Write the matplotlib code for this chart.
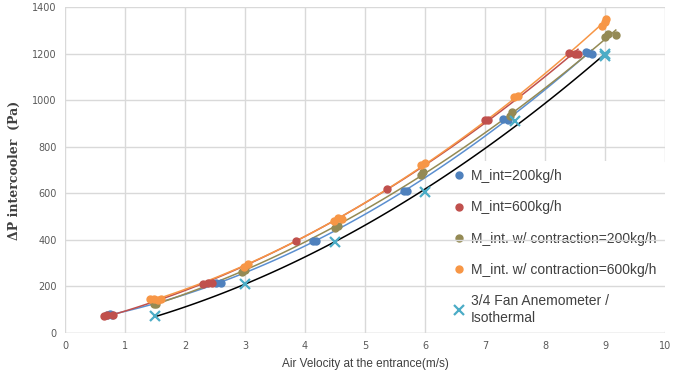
import numpy as np
import matplotlib
matplotlib.use("Agg")
from matplotlib import pyplot as plt

# measured pressure drop across the intercooler vs. entrance air velocity
blueX = [0.70, 0.75, 0.78, 2.52, 2.60, 4.13, 4.18, 5.65, 5.70, 7.30, 7.38, 8.68, 8.72, 8.78]
blueY = [77, 80, 78, 215, 213, 393, 395, 609, 612, 918, 914, 1205, 1203, 1198]

redX = [0.65, 0.70, 0.80, 2.30, 2.38, 2.45, 3.85, 5.37, 7.00, 7.05, 8.40, 8.50, 8.55]
redY = [75, 78, 76, 212, 215, 213, 397, 620, 913, 915, 1203, 1200, 1200]

oliveX = [1.48, 1.52, 2.95, 3.00, 4.50, 4.55, 5.93, 5.97, 7.42, 7.45, 9.00, 9.05, 9.18]
oliveY = [123, 126, 263, 270, 453, 458, 678, 690, 930, 950, 1270, 1285, 1280]

orangeX = [1.42, 1.48, 1.55, 1.60, 2.98, 3.05, 4.48, 4.55, 4.62, 5.93, 6.00, 7.48, 7.55, 8.95, 9.00, 9.02]
orangeY = [145, 148, 142, 146, 285, 298, 480, 492, 490, 720, 728, 1012, 1020, 1320, 1335, 1350]

anemoX = [1.5, 3.0, 4.5, 6.0, 7.5, 9.0, 9.0]
anemoY = [72, 210, 390, 605, 910, 1200, 1188]

labels = ["M_int=200kg/h", "M_int=600kg/h",
          "M_int. w/ contraction=200kg/h", "M_int. w/ contraction=600kg/h",
          "3/4 Fan Anemometer /\nIsothermal"]

xTicks = np.arange(0, 11, 1)
yTicks = np.arange(0, 1401, 200)

fig = plt.figure(figsize=(6.87, 3.70), dpi=100)
ax = fig.add_axes([0.0946, 0.10, 0.8734, 0.881])

series = [
    (blueX, blueY, "#4F81BD", "#5B8FD0", "o"),
    (redX, redY, "#C0504D", "#C0504D", "o"),
    (oliveX, oliveY, "#948A54", "#948A54", "o"),
    (orangeX, orangeY, "#F79646", "#F79646", "o"),
    (anemoX, anemoY, "#4BACC6", "black", "x"),
]

for (xs, ys, col, lineCol, mk), lab in zip(series, labels):
    xs = np.array(xs)
    ys = np.array(ys)
    # excel style 2nd order polynomial trendline over the data range
    coef = np.polyfit(xs, ys, 2)
    xt = np.linspace(xs.min(), xs.max(), 100)
    ax.plot(xt, np.polyval(coef, xt), color=lineCol, lw=1.1, zorder=2)
    if mk == "o":
        ax.plot(xs, ys, "o", color=col, ms=5, mec=col, label=lab, zorder=3)
    else:
        ax.plot(xs, ys, "x", color=col, ms=7, mew=1.6, label=lab, zorder=3)

ax.set_xlim(0, 10)
ax.set_ylim(0, 1400)
ax.set_xticks(xTicks)
ax.set_yticks(yTicks)

# horizontal grid on the axis, vertical grid drawn under the legend
ax.set_axisbelow(True)
ax.yaxis.grid(True, color="#D9D9D9", lw=1)
for xv in xTicks:
    ax.axvline(xv, color="#D9D9D9", lw=1, zorder=0.3)
for s in ax.spines.values():
    s.set_visible(False)
ax.tick_params(length=0, labelsize=7, colors="#595959", pad=6)
ax.axhline(0, color="#D9D9D9", lw=1, zorder=0.6)

ax.set_xlabel("Air Velocity at the entrance(m/s)", fontsize=8.5,
              family="Liberation Sans", color="#404040", labelpad=5)
ax.set_ylabel("ΔP intercooler  (Pa)", fontsize=9, family="DejaVu Serif",
              fontweight="bold", color="#404040", labelpad=8)

leg = ax.legend(loc="lower right", bbox_to_anchor=(1.0, 0.0), frameon=True,
                framealpha=1, edgecolor="none", facecolor="white",
                prop={"family": "Liberation Sans", "size": 10},
                labelspacing=1.25, handlelength=0.8, handletextpad=0.5,
                borderpad=0.6, borderaxespad=0.0)
leg.set_zorder(0.4)
for t in leg.get_texts():
    t.set_color("#404040")

fig.savefig("out.png", dpi=100)
